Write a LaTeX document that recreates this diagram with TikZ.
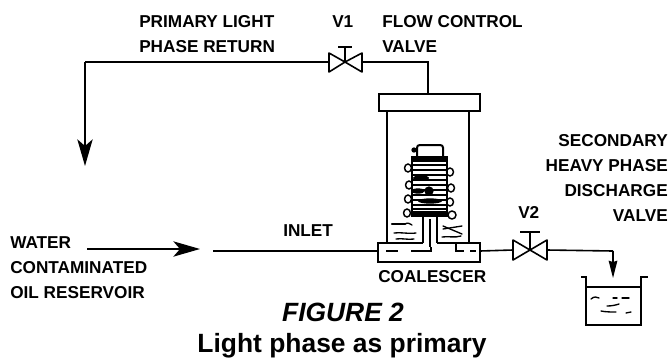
\documentclass[tikz,border=0pt]{standalone}
\usepackage{fontspec}
\setmainfont{Liberation Sans}
\usetikzlibrary{arrows.meta}
\tikzset{
  pipe/.style={line width=1.2pt},
  wall/.style={line width=1.5pt},
  thinline/.style={line width=0.9pt},
  scribble/.style={line width=1pt,line cap=round},
  coil/.style={line width=1.1pt},
  flowtip/.style={-{Stealth[length=20pt,width=11.5pt,inset=5pt]}},
  droptip/.style={-{Stealth[length=13pt,width=6.5pt,inset=1pt]}},
  lbl/.style={font=\bfseries\fontsize{12.9}{14}\selectfont,inner sep=0pt,anchor=west},
  lblr/.style={lbl,anchor=east}
}
\begin{document}
\begin{tikzpicture}[x=0.75pt,y=-0.75pt]
    \useasboundingbox (0,0) rectangle (670,358);
    % labels
    \node[lbl] (returnA) at (139,22) {PRIMARY LIGHT};
    \node[lbl] (returnB) at (139,47) {PHASE RETURN};
    \node[lbl] (vone) at (332,22) {V1};
    \node[lbl] (flowA) at (382,22) {FLOW CONTROL};
    \node[lbl] (flowB) at (382,47) {VALVE};
    \node[lblr] (secA) at (668,141) {SECONDARY};
    \node[lblr] (secB) at (668,166) {HEAVY PHASE};
    \node[lblr] (secC) at (668,191) {DISCHARGE};
    \node[lblr] (secD) at (668,216) {VALVE};
    \node[lbl] (vtwo) at (518,212) {V2};
    \node[lbl] (waterA) at (10,243) {WATER};
    \node[lbl] (waterB) at (10,268) {CONTAMINATED};
    \node[lbl] (waterC) at (10,293) {OIL RESERVOIR};
    \node[lbl] (inlet) at (283,231) {INLET};
    \node[lbl] (coal) at (378,277) {COALESCER};
    \node[inner sep=0pt,font=\bfseries\itshape\fontsize{19.8}{22}\selectfont] (fig) at (343,312) {FIGURE 2};
    \node[inner sep=0pt,font=\bfseries\fontsize{19.8}{22}\selectfont] (cap) at (342,346) {Light phase as primary};
    % pipe ends
    \coordinate (vonec) at (345,62);
    \coordinate (voneL) at (329,62);
    \coordinate (voneR) at (362,62);
    \coordinate (vtwoc) at (530,250);
    \coordinate (vtwoL) at (513,250);
    \coordinate (vtwoR) at (547,250);
    \coordinate (corner) at (85,62);
    \coordinate (rettip) at (85,166);
    \coordinate (feedA) at (87,249);
    \coordinate (feedB) at (200,249);
    \coordinate (inA) at (213,251);
    \coordinate (inB) at (378,251);
    \coordinate (outA) at (480,251);
    \coordinate (bend) at (613,251);
    \coordinate (droptip) at (613,278);
    \coordinate (topB) at (428,62);
    \coordinate (topC) at (428,94);
    % return line and feed
    \draw[pipe] (voneL) -- (corner);
    \draw[pipe,flowtip] (corner) -- (rettip);
    \draw[pipe,flowtip] (feedA) -- (feedB);
    \draw[thinline] (inA) -- (inB);
    \draw[pipe] (voneR) -- (topB) -- (topC);
    % valves
    \draw[pipe,line join=round] (vonec) -- ++(-16,-9) -- ++(0,19) -- cycle;
    \draw[pipe,line join=round] (vonec) -- ++(17,-9) -- ++(0,19) -- cycle;
    \draw[pipe] (vonec) -- ++(0,-15) ++(-7,0) -- ++(14,0);
    \draw[pipe,line join=round] (vtwoc) -- ++(-17,-10) -- ++(0,20) -- cycle;
    \draw[pipe,line join=round] (vtwoc) -- ++(17,-10) -- ++(0,20) -- cycle;
    \draw[pipe] (vtwoc) -- ++(0,-18) ++(-10,0) -- ++(20,0);
    % discharge
    \draw[pipe] (outA) -- (vtwoL);
    \draw[pipe] (vtwoR) -- (bend);
    \draw[thinline,droptip] (bend) -- (droptip);
    \draw[thinline] (581,277) -- (586,277) -- (586,325) -- (641,325) -- (641,277) -- (648,277);
    \draw[thinline] (586,287) -- (641,287);
    \draw[scribble] (591,299) .. controls (594,296) and (597,297) .. (599,298);
    \draw[scribble] (613,298) -- (617,298) (622,298) -- (629,298);
    \draw[scribble] (607,306) .. controls (612,306) and (616,305) .. (619,304);
    \draw[scribble] (601,311) .. controls (606,312) and (611,312) .. (616,312) (626,313) -- (631,312);
    % coalescer
    \draw[wall] (379,94) rectangle (480,111);
    \draw[wall] (387,111) -- (387,243) (469,111) -- (469,243);
    \draw[wall] (423,243) -- (378,243) -- (378,262) -- (480,262) -- (480,243) -- (437,243);
    \draw[wall] (412,157) rectangle (447,216);
    \draw[wall,rounded corners=2pt] (417,157) -- (417,145) -- (443,145) -- (443,157);
    \fill (414,150) circle (2pt);
    \draw[wall] (423,216) -- (423,243) (437,216) -- (437,243);
    \draw[pipe] (430,219) -- (430,247);
    % element layers
    \draw[line width=2.4pt] (412,160) -- (447,160) (412,213) -- (447,213);
    \foreach \y/\w in {165/1.2,170/0.8,175/1.6,180/0.9,185/1.5,190/1.2,195/1.4,200/1.8,205/1.2,209/0.9}
      \draw[line width=\w pt] (412,\y) -- (447,\y);
    \fill (429,191) circle (3.5pt);
    \fill (421,178) ellipse (6pt and 2pt);
    \fill (430,201) ellipse (9pt and 2pt);
    \fill (418,191) ellipse (5pt and 2pt);
    % coil
    \foreach \x/\y in {408/168,409/185,408/199,407/213,450/172,451/188,450/202}
      \draw[coil] (\x,\y) ellipse (2.6pt and 3pt);
    \draw[coil] (452,215) circle (3pt);
    % liquid marks
    \draw[scribble,line width=1.6pt] (392,224) -- (405,224);
    \draw[scribble] (405,224) .. controls (408,222) and (410,224) .. (412,225);
    \draw[scribble] (394,233) .. controls (400,232) and (408,234) .. (416,233);
    \draw[scribble] (396,239) .. controls (402,238) and (408,240) .. (414,239);
    \draw[scribble] (443,229) -- (462,226);
    \draw[scribble] (443,226) -- (462,234);
    \draw[scribble] (442,237) .. controls (448,236) and (455,238) .. (461,236);
    % lower chamber marks
    \draw[pipe] (386,251) -- (398,251) (411,251) -- (431,251) -- (431,247);
    \draw[pipe] (456,243) -- (456,251) -- (464,251) (470,251) -- (476,251);
\end{tikzpicture}
\end{document}
